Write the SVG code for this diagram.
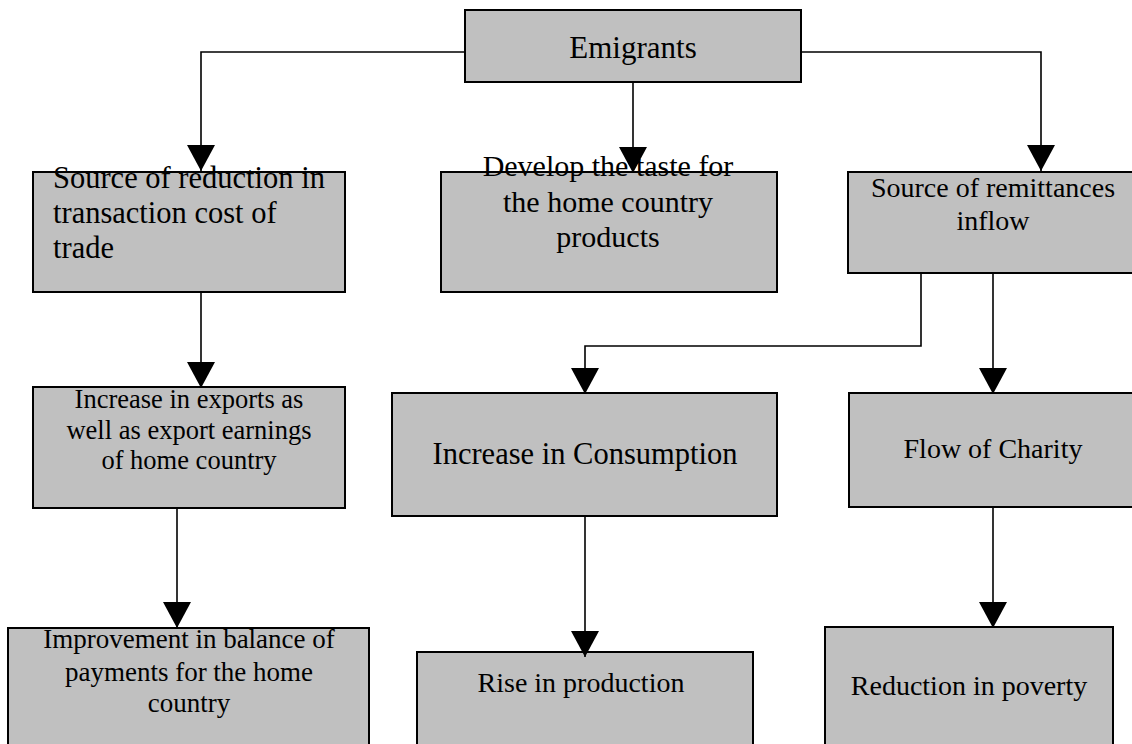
<svg xmlns="http://www.w3.org/2000/svg" width="1132" height="744" viewBox="0 0 1132 744">
<style>
.box{fill:#c0c0c0;stroke:#000;stroke-width:2}
.t{font-family:"Liberation Serif","Times New Roman",serif;fill:#000}
.c{text-anchor:middle}
.edge{fill:none;stroke:#000;stroke-width:1.6}
</style>
<defs>
<marker id="ah" markerUnits="userSpaceOnUse" viewBox="0 0 26 28" markerWidth="26" markerHeight="28" refX="26" refY="14" orient="auto">
<path d="M0,0 L26,14 L0,28 Z" fill="#000"/>
</marker>
</defs>
<rect width="1132" height="744" fill="#fff"/>
<g id="emigrants">
<rect class="box" x="465" y="10" width="336" height="72"/>
<text class="t c" x="633" y="58" font-size="31">Emigrants</text>
</g>
<g id="transaction">
<rect class="box" x="33" y="172" width="312" height="120"/>
<text class="t" font-size="30.5"><tspan x="53" y="188">Source of reduction in</tspan><tspan x="53" y="223">transaction cost of</tspan><tspan x="53" y="258">trade</tspan></text>
</g>
<g id="taste">
<rect class="box" x="441" y="172" width="336" height="120"/>
<text class="t c" font-size="30"><tspan x="608" y="176">Develop the taste for</tspan><tspan x="608" y="211.5">the home country</tspan><tspan x="608" y="247">products</tspan></text>
</g>
<g id="remittances">
<rect class="box" x="848" y="172" width="292" height="101"/>
<text class="t c" font-size="28"><tspan x="993" y="197">Source of remittances</tspan><tspan x="993" y="230">inflow</tspan></text>
</g>
<g id="exports">
<rect class="box" x="33" y="387" width="312" height="121"/>
<text class="t c" font-size="26.5"><tspan x="189" y="408">Increase in exports as</tspan><tspan x="189" y="438.5">well as export earnings</tspan><tspan x="189" y="469">of home country</tspan></text>
</g>
<g id="consumption">
<rect class="box" x="392" y="393" width="385" height="123"/>
<text class="t c" x="585" y="464" font-size="30.5">Increase in Consumption</text>
</g>
<g id="charity">
<rect class="box" x="849" y="393" width="291" height="114"/>
<text class="t c" x="993" y="458" font-size="28">Flow of Charity</text>
</g>
<g id="balance">
<rect class="box" x="8" y="628" width="361" height="130"/>
<text class="t c" font-size="27"><tspan x="189" y="648">Improvement in balance of</tspan><tspan x="189" y="681">payments for the home</tspan><tspan x="189" y="712">country</tspan></text>
</g>
<g id="production">
<rect class="box" x="417" y="652" width="336" height="110"/>
<text class="t c" x="581" y="692" font-size="28">Rise in production</text>
</g>
<g id="poverty">
<rect class="box" x="825" y="627" width="288" height="130"/>
<text class="t c" x="969" y="695" font-size="28">Reduction in poverty</text>
</g>
<g id="connectors">
<path class="edge" d="M465,52 H201 V171" marker-end="url(#ah)"/>
<path class="edge" d="M633,82 V173" marker-end="url(#ah)"/>
<path class="edge" d="M801,52 H1041 V171" marker-end="url(#ah)"/>
<path class="edge" d="M201,292 V388" marker-end="url(#ah)"/>
<path class="edge" d="M921,273 V346 H585 V394" marker-end="url(#ah)"/>
<path class="edge" d="M993,273 V394" marker-end="url(#ah)"/>
<path class="edge" d="M177,508 V628" marker-end="url(#ah)"/>
<path class="edge" d="M585,516 V657" marker-end="url(#ah)"/>
<path class="edge" d="M993,507 V628" marker-end="url(#ah)"/>
</g>
</svg>
